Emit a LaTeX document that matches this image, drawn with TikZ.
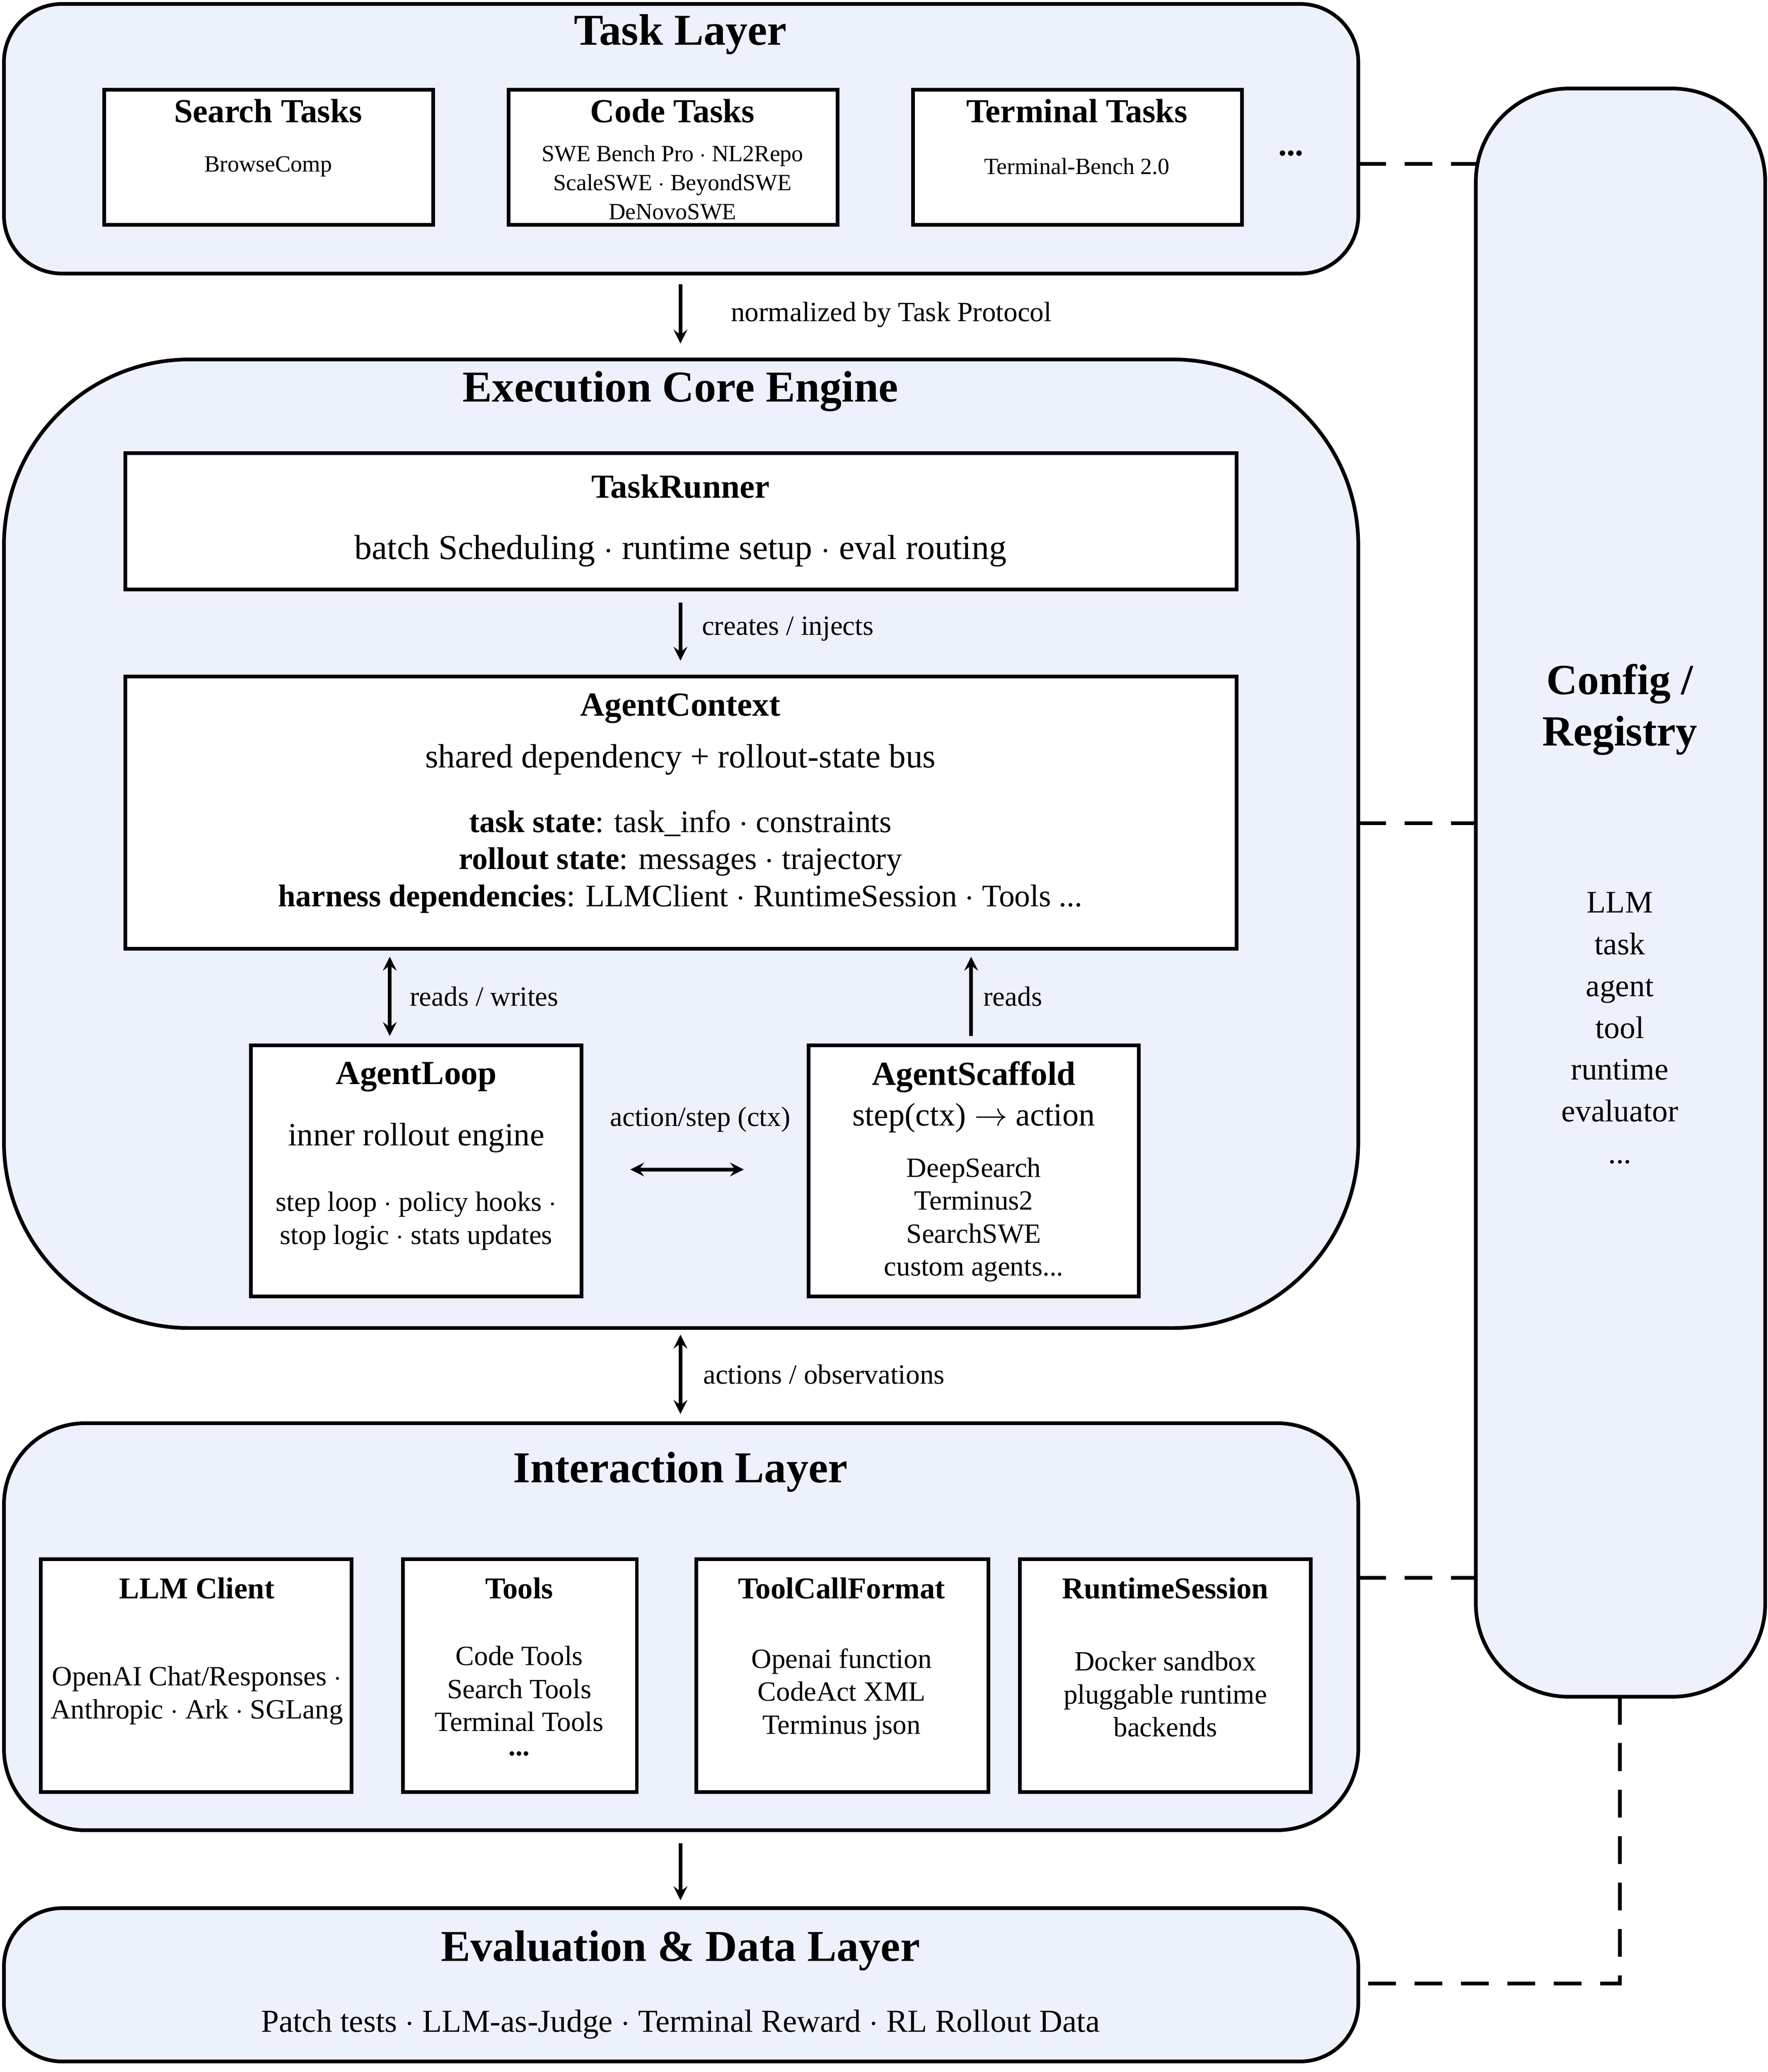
\documentclass[tikz,border=0pt]{standalone}
\usepackage{fontspec}
\setmainfont{Liberation Serif}
\usetikzlibrary{arrows,fit,positioning}
\definecolor{layerfill}{HTML}{EDF1FC}
\begin{document}
\begin{tikzpicture}[x=0.02cm, y=-0.02cm, >=stealth, line width=1.6pt,
  layer/.style={draw, fill=layerfill, inner sep=0pt},
  box/.style={draw, fill=white, inner sep=0pt},
  layertitle/.style={font=\fontsize{19}{21}\selectfont\bfseries},
  boxtitle/.style={font=\fontsize{14.5}{16}\selectfont\bfseries},
  body/.style={font=\fontsize{14.5}{17}\selectfont, align=center},
  small/.style={font=\fontsize{10}{12.5}\selectfont, align=center},
  mid/.style={font=\fontsize{12}{14.2}\selectfont, align=center},
  lbl/.style={font=\fontsize{12}{14}\selectfont, anchor=west},
  link/.style={dashed, dash pattern=on 12pt off 8pt}]
  \useasboundingbox (0,0) rectangle (1338,1568);
  % layers
  \node (task) [layer, rounded corners=25, fit={(3,3) (1028,207)}] {};
  \node (core) [layer, rounded corners=80, fit={(3,272) (1028,1005)}] {};
  \node (inter) [layer, rounded corners=35, fit={(3,1077) (1028,1385)}] {};
  \node (eval) [layer, rounded corners=25, fit={(3,1444) (1028,1560)}] {};
  \node (config) [layer, rounded corners=40, fit={(1117,67) (1336,1284)}] {};
  \node [layertitle] at (515,26) {Task Layer};
  \node [layertitle] at (515,296) {Execution Core Engine};
  \node [layertitle] at (515,1114) {Interaction Layer};
  \node [layertitle] at (515,1476) {Evaluation \& Data Layer};
  \node [layertitle, align=center, font=\fontsize{18.5}{22}\selectfont\bfseries] at (1226,537) {Config /\\Registry};
  \node [body, font=\fontsize{13.5}{18}\selectfont] at (1226,778) {LLM\\task\\agent\\tool\\runtime\\evaluator\\...};
  % task layer
  \begin{scope}[every node/.style={box}]
    \node (search) [fit={(79,68) (328,170)}] {};
    \node (code) [fit={(385,68) (634,170)}] {};
    \node (terminal) [fit={(691,68) (940,170)}] {};
  \end{scope}
  \node [boxtitle] at (203,84) {Search Tasks};
  \node [small] at (203,126) {BrowseComp};
  \node [boxtitle] at (509,84) {Code Tasks};
  \node [small] at (509,138) {SWE Bench Pro $\cdot$ NL2Repo\\ScaleSWE $\cdot$ BeyondSWE\\DeNovoSWE};
  \node [boxtitle] at (815,84) {Terminal Tasks};
  \node [small] at (815,126) {Terminal-Bench 2.0};
  \node (taskmore) [boxtitle] at (977,116) {...};
  % core engine
  \begin{scope}[every node/.style={box}]
    \node (runner) [fit={(95,343) (936,446)}] {};
    \node (ctx) [fit={(95,512) (936,718)}] {};
    \node (loop) [fit={(190,791) (440,981)}] {};
    \node (scaffold) [fit={(612,791) (862,981)}] {};
  \end{scope}
  \node [boxtitle] at (515,368) {TaskRunner};
  \node [body, font=\fontsize{15}{17}\selectfont] at (515,417) {batch Scheduling $\cdot$ runtime setup $\cdot$ eval routing};
  \node [boxtitle] at (515,536) {AgentContext};
  \node [body] at (515,575) {shared dependency + rollout-state bus};
  \node [body, font=\fontsize{13.5}{16}\selectfont] at (515,652) {\textbf{task state}: task\_info $\cdot$ constraints\\\textbf{rollout state}: messages $\cdot$ trajectory\\\textbf{harness dependencies}: LLMClient $\cdot$ RuntimeSession $\cdot$ Tools ...};
  \node [boxtitle] at (315,815) {AgentLoop};
  \node [body, font=\fontsize{14}{17}\selectfont] at (315,861) {inner rollout engine};
  \node [mid] at (315,924) {step loop $\cdot$ policy hooks $\cdot$\\stop logic $\cdot$ stats updates};
  \node [boxtitle] at (737,815) {AgentScaffold};
  \node [body, font=\fontsize{14}{17}\selectfont] at (737,846) {step(ctx) $\rightarrow$ action};
  \node [mid] at (737,923) {DeepSearch\\Terminus2\\SearchSWE\\custom agents...};
  % interaction layer
  \begin{scope}[every node/.style={box}]
    \node (llm) [fit={(31,1180) (266,1356)}] {};
    \node (tools) [fit={(305,1180) (482,1356)}] {};
    \node (fmt) [fit={(527,1180) (748,1356)}] {};
    \node (runtime) [fit={(772,1180) (992,1356)}] {};
  \end{scope}
  \node [boxtitle, font=\fontsize{13}{15}\selectfont\bfseries] at (149,1202) {LLM Client};
  \node [mid] at (149,1283) {OpenAI Chat/Responses $\cdot$\\Anthropic $\cdot$ Ark $\cdot$ SGLang};
  \node [boxtitle, font=\fontsize{13}{15}\selectfont\bfseries] at (393,1202) {Tools};
  \node [mid] at (393,1278) {Code Tools\\Search Tools\\Terminal Tools};
  \node [mid, font=\fontsize{12}{12}\selectfont\bfseries, inner sep=0pt] at (393,1327) {...};
  \node [boxtitle, font=\fontsize{13}{15}\selectfont\bfseries] at (637,1202) {ToolCallFormat};
  \node [mid] at (637,1282) {Openai function\\CodeAct XML\\Terminus json};
  \node [boxtitle, font=\fontsize{13}{15}\selectfont\bfseries] at (882,1202) {RuntimeSession};
  \node [mid] at (882,1282) {Docker sandbox\\pluggable runtime\\backends};
  \node [body, font=\fontsize{13.8}{16}\selectfont] at (515,1532) {Patch tests $\cdot$ LLM-as-Judge $\cdot$ Terminal Reward $\cdot$ RL Rollout Data};
  % connectors
  \coordinate (c1) at (515,215); \coordinate (c2) at (515,260);
  \coordinate (c3) at (515,456); \coordinate (c4) at (515,500);
  \coordinate (c5) at (295,724); \coordinate (c6) at (295,784);
  \coordinate (c7) at (735,784); \coordinate (c8) at (735,724);
  \coordinate (c9) at (477,885); \coordinate (c10) at (563,885);
  \coordinate (c11) at (515,1010); \coordinate (c12) at (515,1070);
  \coordinate (c13) at (515,1395); \coordinate (c14) at (515,1438);
  \draw [->] (c1) -- (c2);
  \node [lbl] at (546,238) {normalized by Task Protocol};
  \draw [->] (c3) -- (c4);
  \node [lbl] at (524,476) {creates / injects};
  \draw [<->] (c5) -- (c6);
  \node [lbl] at (303,754) {reads / writes};
  \draw [->] (c7) -- (c8);
  \node [lbl] at (737,754) {reads};
  \draw [<->] (c9) -- (c10);
  \node [lbl, anchor=center] at (530,847) {action/step (ctx)};
  \draw [<->] (c11) -- (c12);
  \node [lbl] at (525,1040) {actions / observations};
  \draw [->] (c13) -- (c14);
  % config links
  \coordinate (d1) at (1028,124); \coordinate (d2) at (1117,124);
  \coordinate (d3) at (1028,623); \coordinate (d4) at (1117,623);
  \coordinate (d5) at (1028,1194); \coordinate (d6) at (1117,1194);
  \coordinate (d7) at (1226,1284); \coordinate (d8) at (1028,1501);
  \draw [link] (d1) -- (d2);
  \draw [link] (d3) -- (d4);
  \draw [link] (d5) -- (d6);
  \draw [link] (d7) |- (d8);
\end{tikzpicture}
\end{document}
